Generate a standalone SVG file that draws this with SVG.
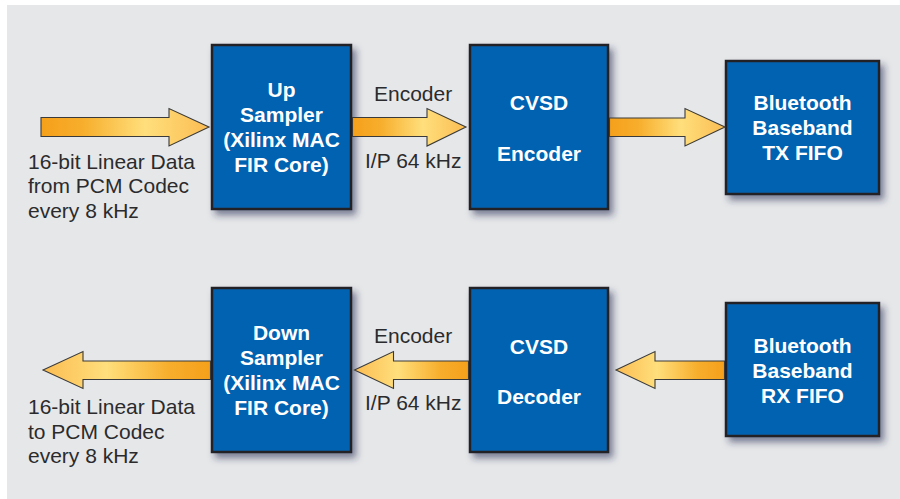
<svg xmlns="http://www.w3.org/2000/svg" width="900" height="499" viewBox="0 0 900 499">
  <style>
    .box { fill: #0162b0; stroke: #222226; stroke-width: 2.5; }
    .lbl { font-family: "Liberation Sans", Arial, Helvetica, sans-serif; font-size: 21px; font-weight: bold; fill: #ffffff; text-anchor: middle; }
    .note { font-family: "Liberation Sans", Arial, Helvetica, sans-serif; font-size: 21px; fill: #2b2b2d; }
    .arr { stroke: #3a3a3a; stroke-width: 1.1; stroke-linejoin: miter; }
    .fwd { fill: url(#gradFwd); }
    .back { fill: url(#gradBack); }
  </style>
  <defs>
    <linearGradient id="gradFwd" x1="0" y1="0" x2="1" y2="0">
      <stop offset="0" stop-color="#f5a01b"/>
      <stop offset="0.25" stop-color="#f7ae2c"/>
      <stop offset="0.62" stop-color="#ffdf7c"/>
      <stop offset="1" stop-color="#fbbc52"/>
    </linearGradient>
    <linearGradient id="gradBack" x1="1" y1="0" x2="0" y2="0">
      <stop offset="0" stop-color="#f5a01b"/>
      <stop offset="0.25" stop-color="#f7ae2c"/>
      <stop offset="0.62" stop-color="#ffdf7c"/>
      <stop offset="1" stop-color="#fbbc52"/>
    </linearGradient>
    <filter id="shadow" x="-20%" y="-20%" width="150%" height="150%">
      <feDropShadow dx="4" dy="5" stdDeviation="3.5" flood-color="#1c2550" flood-opacity="0.55"/>
    </filter>
  </defs>

  <!-- backdrop -->
  <rect x="0" y="0" width="900" height="499" fill="#ffffff"/>
  <rect x="7" y="5" width="893" height="494" fill="#e6e7e9"/>

  <!-- transmit path -->
  <g id="up-sampler">
    <rect class="box" x="212" y="45" width="139" height="164" filter="url(#shadow)"/>
    <text class="lbl" x="281.5" y="97">Up</text>
    <text class="lbl" x="281.5" y="122">Sampler</text>
    <text class="lbl" x="281.5" y="147">(Xilinx MAC</text>
    <text class="lbl" x="281.5" y="172">FIR Core)</text>
  </g>
  <g id="cvsd-encoder">
    <rect class="box" x="470" y="45" width="138" height="164" filter="url(#shadow)"/>
    <text class="lbl" x="539" y="110">CVSD</text>
    <text class="lbl" x="539" y="161">Encoder</text>
  </g>
  <g id="bt-tx-fifo">
    <rect class="box" x="726" y="61" width="153" height="133" filter="url(#shadow)"/>
    <text class="lbl" x="802.5" y="109.5">Bluetooth</text>
    <text class="lbl" x="802.5" y="134.5">Baseband</text>
    <text class="lbl" x="802.5" y="159.5">TX FIFO</text>
  </g>

  <!-- receive path -->
  <g id="down-sampler">
    <rect class="box" x="212" y="288" width="139" height="164" filter="url(#shadow)"/>
    <text class="lbl" x="281.5" y="339.5">Down</text>
    <text class="lbl" x="281.5" y="364.5">Sampler</text>
    <text class="lbl" x="281.5" y="389.5">(Xilinx MAC</text>
    <text class="lbl" x="281.5" y="414.5">FIR Core)</text>
  </g>
  <g id="cvsd-decoder">
    <rect class="box" x="470" y="288" width="138" height="164" filter="url(#shadow)"/>
    <text class="lbl" x="539" y="353.5">CVSD</text>
    <text class="lbl" x="539" y="404">Decoder</text>
  </g>
  <g id="bt-rx-fifo">
    <rect class="box" x="726" y="303" width="153" height="133" filter="url(#shadow)"/>
    <text class="lbl" x="802.5" y="352.5">Bluetooth</text>
    <text class="lbl" x="802.5" y="377.5">Baseband</text>
    <text class="lbl" x="802.5" y="402.5">RX FIFO</text>
  </g>

  <!-- data-flow arrows -->
  <g id="connectors">
    <polygon class="arr fwd" points="41,117.5 169,117.5 169,108.5 209,127 169,146 169,136.5 41,136.5"/>
    <polygon class="arr fwd" points="352.5,117.5 427,117.5 427,108.5 466,127 427,146 427,136.5 352.5,136.5"/>
    <polygon class="arr fwd" points="609.5,118 685,118 685,108.5 725,127 685,146 685,136.5 609.5,136.5"/>
    <polygon class="arr back" points="210.5,361 83,361 83,351.5 43,370 83,388.5 83,379.5 210.5,379.5"/>
    <polygon class="arr back" points="468.5,361 393.5,361 393.5,351.5 354.5,370 393.5,388.5 393.5,379.5 468.5,379.5"/>
    <polygon class="arr back" points="724.5,361 655,361 655,351.5 616,370 655,388.5 655,379.5 724.5,379.5"/>
  </g>

  <!-- annotations -->
  <g id="notes">
    <text class="note" x="374" y="101">Encoder</text>
    <text class="note" x="365" y="168">I/P 64 kHz</text>
    <text class="note" x="28" y="168.5">16-bit Linear Data</text>
    <text class="note" x="28" y="193">from PCM Codec</text>
    <text class="note" x="28" y="217.5">every 8 kHz</text>

    <text class="note" x="374" y="343">Encoder</text>
    <text class="note" x="365" y="410">I/P 64 kHz</text>
    <text class="note" x="28" y="413.5">16-bit Linear Data</text>
    <text class="note" x="28" y="438.5">to PCM Codec</text>
    <text class="note" x="28" y="463">every 8 kHz</text>
  </g>
</svg>
